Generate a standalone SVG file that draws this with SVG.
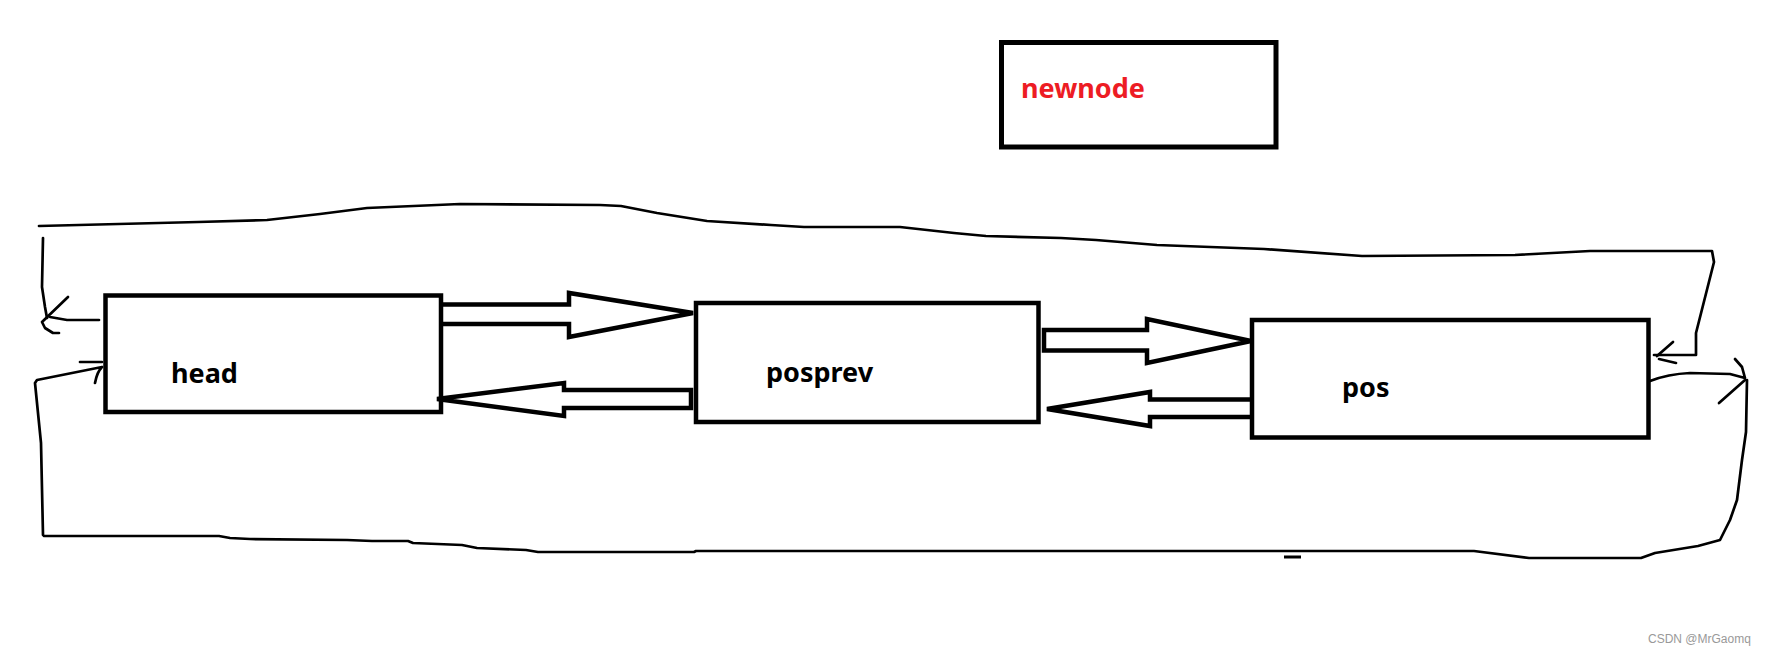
<svg xmlns="http://www.w3.org/2000/svg" width="1766" height="655" viewBox="0 0 1766 655">
<style>
.box{fill:#fff;stroke:#000;stroke-width:4.5}
.lbl{font-family:"Noto Sans","Open Sans",sans-serif;font-weight:700;font-size:27px;fill:#000}
.blk{fill:none;stroke:#000;stroke-width:4.5;stroke-linejoin:miter;stroke-miterlimit:3}
.loop{fill:none;stroke:#000;stroke-width:2.7;stroke-linejoin:round;stroke-linecap:round}
</style>
<rect width="1766" height="655" fill="#fff"/>
<g id="newnode">
<rect class="box" x="1001.5" y="42.5" width="274.5" height="104.5" style="stroke-width:5"/>
<text class="lbl" x="1021" y="98" style="fill:#ed1c24">newnode</text>
</g>
<g id="head">
<rect class="box" x="105.5" y="295.5" width="335.5" height="116.5"/>
<text class="lbl" x="171" y="383">head</text>
</g>
<g id="posprev">
<rect class="box" x="696" y="303" width="342.5" height="119"/>
<text class="lbl" x="766" y="382">posprev</text>
</g>
<g id="pos">
<rect class="box" x="1252" y="320" width="396.5" height="117.5"/>
<text class="lbl" x="1342" y="397">pos</text>
</g>
<g id="connectors">
<polyline class="blk" points="441,304.5 569,304.5 569,293 693,313 569,337 569,324 441,324"/>
<polygon class="blk" points="691,390 564,390 564,383 437,399 564,416 564,408 691,408"/>
<polygon class="blk" points="1044,330 1147,330 1147,319 1251,341 1147,363 1147,350.5 1044,350.5"/>
<polyline class="blk" points="1252,399.5 1150,399.5 1150,392 1047,409 1150,426 1150,417 1252,417"/>
<path class="loop" d="M39,226 L198,222 L267,220 L320,214 L367,208 L460,204 L600,205 L621,206 L657,213 L707,221 L771,225 L804,227 L900,227 L954,233 L986,236 L1061,238 L1096,240 L1157,245 L1264,249 L1362,256 L1515,255 L1590,251 L1712,251 L1714,262 L1696,333 L1696,355 L1654,355"/>
<path class="loop" d="M1673,342 L1657,356 M1659,359 L1676,363"/>
<path class="loop" d="M43,238 L42,287 L45,307 L47,318"/>
<path class="loop" d="M99,320 L67,320 L50,317 M68,297 L42,322 L45,328 L53,333 L59,333"/>
<path class="loop" d="M43,535 L41,443 L35,383 L37,380 L102,367 M80,362 L102,362 M95,383 Q97,372 102,367"/>
<path class="loop" d="M44,536 L219,536 L230,538 L250,539 L347,540 L372,541 L408,541 L413,543 L462,545 L477,548 L526,550 L538,552 L694,552 L696,551 L1474,551 L1529,558 L1641,558 L1655,553 L1698,546 L1720,540 L1730,520 L1737,500 L1742,460 L1746,432 L1747,380"/>
<path class="loop" d="M1650,381 Q1668,374 1690,373 L1730,374 L1745,378 M1735,359 L1742,367 L1745,378 M1745,380 L1719,403"/>
<rect x="1284" y="555.5" width="17" height="3" fill="#000"/>
</g>
<text x="1648" y="643" font-family="Liberation Sans, Arial, sans-serif" font-size="12" fill="#999">CSDN @MrGaomq</text>
</svg>
